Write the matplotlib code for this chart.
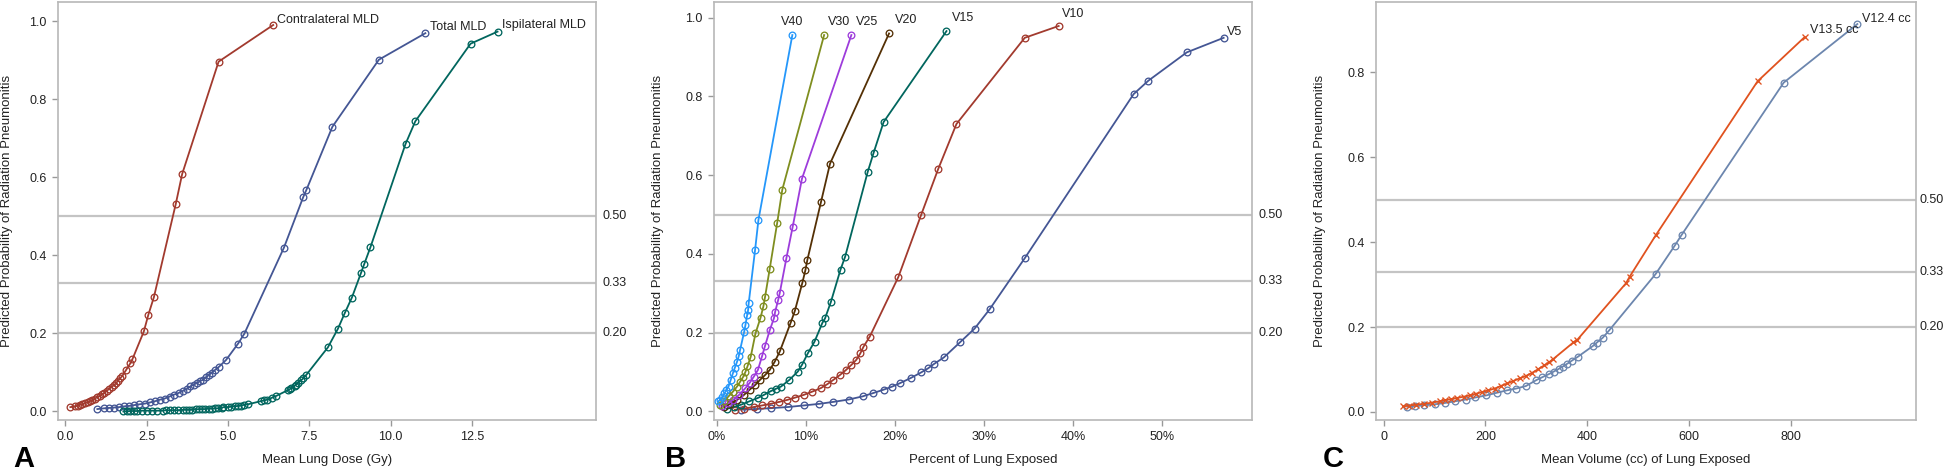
import matplotlib
matplotlib.use('Agg')
import matplotlib.pyplot as plt
import matplotlib.transforms as mtransforms

plt.rcParams['font.family'] = ['Liberation Sans', 'DejaVu Sans']

# ---------- Panel A: mean lung dose ----------
contra_x = [0.15, 0.3, 0.38, 0.45, 0.52, 0.6, 0.68, 0.75, 0.82, 0.9, 0.97, 1.05, 1.12, 1.2, 1.27, 1.35,
            1.42, 1.5, 1.56, 1.62, 1.68, 1.74, 1.87, 2.0, 2.06, 2.41, 2.55, 2.72, 3.39, 3.59, 4.71, 6.39]
contra_y = [0.011, 0.013, 0.015, 0.017, 0.019, 0.021, 0.024, 0.026, 0.029, 0.033, 0.036, 0.040, 0.044,
            0.048, 0.053, 0.058, 0.063, 0.068, 0.073, 0.079, 0.085, 0.090, 0.107, 0.124, 0.134, 0.205,
            0.248, 0.293, 0.531, 0.609, 0.897, 0.991]
total_x = [0.98, 1.2, 1.35, 1.5, 1.65, 1.81, 1.95, 2.1, 2.25, 2.44, 2.6, 2.75, 2.9, 3.05, 3.2, 3.34, 3.5,
           3.62, 3.74, 3.84, 3.95, 4.05, 4.15, 4.23, 4.33, 4.42, 4.5, 4.61, 4.73, 4.94, 5.31, 5.5, 6.72,
           7.31, 7.41, 8.21, 9.64, 11.07]
total_y = [0.006, 0.008, 0.009, 0.010, 0.011, 0.013, 0.014, 0.016, 0.018, 0.020, 0.023, 0.026, 0.030,
           0.033, 0.038, 0.043, 0.048, 0.053, 0.058, 0.064, 0.069, 0.073, 0.078, 0.081, 0.088, 0.094,
           0.099, 0.107, 0.115, 0.132, 0.174, 0.199, 0.42, 0.549, 0.568, 0.73, 0.902, 0.97]
ipsi_x = [1.78, 1.9, 2.0, 2.1, 2.19, 2.35, 2.5, 2.65, 2.83, 3.0, 3.1, 3.2, 3.33, 3.46, 3.6, 3.7, 3.8,
          3.9, 4.0, 4.1, 4.2, 4.3, 4.4, 4.5, 4.6, 4.7, 4.8, 4.86, 5.0, 5.1, 5.2, 5.3, 5.4, 5.5, 5.6, 6.0,
          6.1, 6.2, 6.35, 6.49, 6.83, 6.9, 6.95, 7.05, 7.1, 7.15, 7.25, 7.32, 7.41, 8.07, 8.38, 8.59,
          8.81, 9.09, 9.19, 9.38, 10.46, 10.76, 12.46, 13.29]
ipsi_y = [0.0, 0.0, 0.001, 0.001, 0.001, 0.002, 0.002, 0.002, 0.002, 0.002, 0.003, 0.003, 0.003, 0.003,
          0.004, 0.004, 0.004, 0.004, 0.005, 0.006, 0.006, 0.006, 0.007, 0.007, 0.008, 0.008, 0.009,
          0.011, 0.011, 0.012, 0.013, 0.014, 0.015, 0.017, 0.018, 0.026, 0.028, 0.030, 0.035, 0.040,
          0.054, 0.057, 0.060, 0.066, 0.069, 0.073, 0.080, 0.085, 0.094, 0.164, 0.212, 0.252, 0.292,
          0.355, 0.378, 0.421, 0.686, 0.744, 0.943, 0.974]

# ---------- Panel B: percent of lung exposed ----------
v40_x = [0.14, 0.4, 0.6, 0.85, 1.05, 1.3, 1.55, 1.8, 2.0, 2.26, 2.45, 2.6, 3.06, 3.2, 3.39, 3.5, 3.57, 4.28, 4.66, 8.47]
v40_y = [0.025, 0.030, 0.036, 0.046, 0.054, 0.063, 0.080, 0.097, 0.110, 0.126, 0.140, 0.156, 0.202,
         0.219, 0.244, 0.257, 0.275, 0.409, 0.486, 0.956]
v30_x = [0.38, 0.8, 1.3, 1.8, 2.26, 2.6, 2.96, 3.2, 3.43, 3.8, 4.33, 4.9, 5.22, 5.4, 5.93, 6.77, 7.34, 12.04]
v30_y = [0.017, 0.026, 0.038, 0.050, 0.063, 0.075, 0.088, 0.100, 0.114, 0.139, 0.198, 0.238, 0.267,
         0.29, 0.362, 0.479, 0.563, 0.956]
v25_x = [0.6, 1.2, 1.8, 2.5, 3.2, 3.7, 4.14, 4.6, 5.08, 5.4, 5.93, 6.4, 6.54, 6.87, 7.06, 7.8, 8.51, 9.55, 15.1]
v25_y = [0.013, 0.020, 0.029, 0.042, 0.059, 0.073, 0.088, 0.105, 0.141, 0.166, 0.206, 0.236, 0.253,
         0.282, 0.301, 0.389, 0.469, 0.591, 0.956]
v20_x = [0.85, 1.5, 2.26, 3.0, 3.67, 4.3, 4.84, 5.4, 5.93, 6.49, 7.06, 8.28, 8.75, 9.6, 9.93, 10.16,
         11.7, 12.7, 19.33]
v20_y = [0.011, 0.019, 0.029, 0.041, 0.055, 0.067, 0.080, 0.092, 0.105, 0.126, 0.152, 0.225, 0.255,
         0.327, 0.358, 0.385, 0.533, 0.629, 0.96]
v15_x = [1.08, 1.9, 2.73, 3.6, 4.6, 5.3, 6.02, 6.6, 7.2, 8.14, 9.08, 9.55, 10.2, 10.96, 11.85, 12.14,
         12.8, 13.88, 14.4, 16.93, 17.6, 18.72, 25.78]
v15_y = [0.006, 0.011, 0.017, 0.025, 0.034, 0.042, 0.051, 0.057, 0.063, 0.080, 0.101, 0.118, 0.147,
         0.177, 0.225, 0.236, 0.278, 0.36, 0.393, 0.608, 0.657, 0.735, 0.966]
v10_x = [2.02, 3.0, 4.14, 5.1, 6.02, 7.0, 7.9, 8.8, 9.78, 10.7, 11.67, 12.4, 13.08, 13.8, 14.49, 15.1,
         15.66, 16.1, 16.46, 17.17, 20.37, 22.95, 24.84, 26.9, 34.57, 38.38]
v10_y = [0.004, 0.007, 0.011, 0.015, 0.019, 0.024, 0.029, 0.035, 0.042, 0.050, 0.059, 0.069, 0.080,
         0.092, 0.105, 0.118, 0.131, 0.147, 0.164, 0.19, 0.341, 0.5, 0.615, 0.73, 0.949, 0.979]
v5_x = [2.73, 4.5, 6.02, 8.0, 9.78, 11.5, 13.08, 14.8, 16.37, 17.5, 18.72, 19.7, 20.6, 21.8, 22.95,
        23.7, 24.36, 25.49, 27.28, 28.93, 30.62, 34.57, 46.8, 48.45, 52.77, 56.91]
v5_y = [0.004, 0.006, 0.008, 0.011, 0.015, 0.019, 0.024, 0.030, 0.038, 0.046, 0.055, 0.063, 0.072,
        0.085, 0.099, 0.109, 0.12, 0.137, 0.175, 0.21, 0.259, 0.389, 0.806, 0.84, 0.912, 0.949]

# ---------- Panel C: mean volume (cc) ----------
v135_x = [38.4, 50, 62.9, 80, 95.6, 110, 120, 132, 144.6, 158, 169, 182, 193.7, 206, 218, 230, 242.7,
          255, 267, 280, 291.6, 304, 316, 325, 332.6, 373, 379.8, 476, 483.5, 535, 734.6, 826.9]
v135_y = [0.013, 0.015, 0.017, 0.019, 0.022, 0.025, 0.028, 0.030, 0.033, 0.036, 0.039, 0.043, 0.047,
          0.051, 0.055, 0.061, 0.067, 0.073, 0.079, 0.085, 0.092, 0.101, 0.11, 0.117, 0.124, 0.164,
          0.169, 0.303, 0.319, 0.417, 0.779, 0.883]
v124_x = [46.6, 62, 79, 100, 120, 140, 161, 180, 201.8, 222, 242.7, 260, 279.5, 300, 312, 324.4, 334,
          344.8, 352, 361.2, 370, 381.6, 411.8, 418.4, 430.6, 443.7, 534.4, 572, 585.9, 786, 930.7]
v124_y = [0.012, 0.014, 0.016, 0.018, 0.021, 0.025, 0.029, 0.034, 0.039, 0.045, 0.051, 0.055, 0.061,
          0.075, 0.082, 0.089, 0.095, 0.102, 0.107, 0.114, 0.121, 0.13, 0.156, 0.163, 0.175, 0.193,
          0.325, 0.392, 0.418, 0.776, 0.914]

ref_levels = [0.50, 0.33, 0.20]
ref_labels = ['0.50', '0.33', '0.20']

c_blue = '#445694'
c_red = '#A23A2E'
c_teal = '#01665E'
c_brown = '#543005'
c_purple = '#9D3CDB'
c_olive = '#7F8E1F'
c_lblue = '#2597FA'
c_orange = '#E0521F'
c_slate = '#6C86AE'

grid_gray = '#c4c4c4'
text_col = '#222222'

fig = plt.figure(figsize=(19.46, 4.72), dpi=100)


def setup(ax, xlim, ylim, xticks, xticklabels, yticks, xlabel, letter, ylab_x, letter_x, rlab_x=1.012):
    ax.set_xlim(*xlim)
    ax.set_ylim(*ylim)
    ax.set_xticks(xticks)
    ax.set_xticklabels(xticklabels)
    ax.set_yticks(yticks)
    ax.set_yticklabels(['%.1f' % t for t in yticks])
    for s in ax.spines.values():
        s.set_color('#b8b8b8')
        s.set_linewidth(1.2)
    ax.tick_params(axis='both', colors='#999999', labelcolor=text_col, labelsize=9,
                   length=4, width=1, pad=4)
    ax.set_xlabel(xlabel, fontsize=9.5, color=text_col, va='center')
    ax.xaxis.set_label_coords(0.5, -0.095)
    ax.set_ylabel('Predicted Probability of Radiation Pneumonitis', fontsize=9.5, color=text_col,
                  va='center')
    ax.yaxis.set_label_coords(ylab_x, 0.5)
    trans = mtransforms.blended_transform_factory(ax.transAxes, ax.transData)
    for lv, lb in zip(ref_levels, ref_labels):
        ax.axhline(lv, color=grid_gray, lw=1.6, zorder=0)
        ax.text(rlab_x, lv, lb, transform=trans, ha='left', va='center', fontsize=9,
                color=text_col)
    ax.text(letter_x, -0.093, letter, transform=ax.transAxes, fontsize=21, fontweight='bold',
            ha='left', va='center', color='black')


def series(ax, x, y, color, marker='o'):
    ax.plot(x, y, color=color, lw=1.3, marker=marker, ms=4.8, mfc='none', mec=color, mew=0.95,
            zorder=3)


# Panel A
axA = fig.add_axes([0.0298, 0.1102, 0.2765, 0.8856])
series(axA, contra_x, contra_y, c_red)
series(axA, total_x, total_y, c_blue)
series(axA, ipsi_x, ipsi_y, c_teal)
axA.text(6.52, 1.004, 'Contralateral MLD', fontsize=9, color=text_col, ha='left', va='center')
axA.text(11.2, 0.985, 'Total MLD', fontsize=9, color=text_col, ha='left', va='center')
axA.text(13.42, 0.99, 'Ispilateral MLD', fontsize=9, color=text_col, ha='left', va='center')
setup(axA, (-0.23, 16.32), (-0.022, 1.05), [0, 2.5, 5, 7.5, 10, 12.5],
      ['0.0', '2.5', '5.0', '7.5', '10.0', '12.5'], [0, 0.2, 0.4, 0.6, 0.8, 1.0],
      'Mean Lung Dose (Gy)', 'A', -0.095, -0.084)

# Panel B
axB = fig.add_axes([0.3669, 0.1102, 0.2765, 0.8856])
for xs, ys, col in [(v5_x, v5_y, c_blue), (v10_x, v10_y, c_red), (v15_x, v15_y, c_teal),
                    (v20_x, v20_y, c_brown), (v25_x, v25_y, c_purple), (v30_x, v30_y, c_olive),
                    (v40_x, v40_y, c_lblue)]:
    series(axB, xs, ys, col)
for lbx, lby, lb in [(7.2, 0.99, 'V40'), (12.45, 0.99, 'V30'), (15.66, 0.99, 'V25'),
                     (20.0, 0.995, 'V20'), (26.4, 1.0, 'V15'), (38.7, 1.01, 'V10'),
                     (57.3, 0.965, 'V5')]:
    axB.text(lbx, lby, lb, fontsize=9, color=text_col, ha='left', va='center')
setup(axB, (-0.33, 60.1), (-0.022, 1.04), [0, 10, 20, 30, 40, 50],
      ['0%', '10%', '20%', '30%', '40%', '50%'], [0, 0.2, 0.4, 0.6, 0.8, 1.0],
      'Percent of Lung Exposed', 'B', -0.104, -0.091)

# Panel C
axC = fig.add_axes([0.7071, 0.1102, 0.2775, 0.8856])
series(axC, v124_x, v124_y, c_slate, 'o')
series(axC, v135_x, v135_y, c_orange, 'x')
axC.text(837, 0.9, 'V13.5 cc', fontsize=9, color=text_col, ha='left', va='center')
axC.text(939, 0.925, 'V12.4 cc', fontsize=9, color=text_col, ha='left', va='center')
setup(axC, (-15, 1046), (-0.019, 0.966), [0, 200, 400, 600, 800],
      ['0', '200', '400', '600', '800'], [0, 0.2, 0.4, 0.6, 0.8],
      'Mean Volume (cc) of Lung Exposed', 'C', -0.1035, -0.098, rlab_x=1.007)

fig.savefig('out.png', dpi=100)
